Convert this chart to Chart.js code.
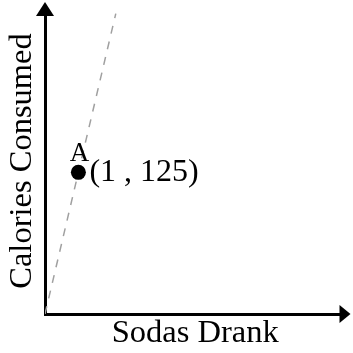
<!DOCTYPE html>
<html>
<head>
<meta charset="utf-8">
<script src="https://cdn.jsdelivr.net/npm/chart.js@4/dist/chart.umd.min.js"></script>
<style>
  html, body { margin: 0; padding: 0; background: #fff; }
  canvas { display: block; }
</style>
</head>
<body>
<canvas id="chart" width="353" height="353"></canvas>
<script>
// axis titles
const xTitle = 'Sodas Drank';
const yTitle = 'Calories Consumed';

// axis ranges (no ticks shown)
const xRange = [0, 9];
const yRange = [0, 270];

// dashed reference line through the origin
const lineX = [0, 2.12];
const lineY = [0, 265];

// the labelled point
const pointName = 'A';
const pointX = [1];
const pointY = [125];

const serif = 'Liberation Serif';

// arrow heads on the axes + the point labels
const extras = {
    id: 'extras',
    afterDraw(chart) {
        const ctx = chart.ctx;
        const a = chart.chartArea;
        ctx.save();
        ctx.fillStyle = '#000';

        // y axis arrow
        ctx.beginPath();
        ctx.moveTo(a.left, a.top - 6);
        ctx.lineTo(a.left - 9, a.top + 8);
        ctx.lineTo(a.left + 9, a.top + 8);
        ctx.closePath();
        ctx.fill();

        // x axis arrow
        ctx.beginPath();
        ctx.moveTo(a.right + 5, a.bottom);
        ctx.lineTo(a.right - 6, a.bottom - 9);
        ctx.lineTo(a.right - 6, a.bottom + 9);
        ctx.closePath();
        ctx.fill();

        // labels next to the point
        const pt = chart.getDatasetMeta(1).data[0];
        ctx.textAlign = 'center';
        ctx.textBaseline = 'alphabetic';
        ctx.font = '27px "' + serif + '"';
        ctx.fillText(pointName, pt.x + 1, pt.y - 11);

        ctx.textAlign = 'left';
        ctx.textBaseline = 'middle';
        ctx.font = '32px "' + serif + '"';
        ctx.fillText('(' + pointX[0] + ' , ' + pointY[0] + ')', pt.x + 11, pt.y);
        ctx.restore();
    }
};

const ctx = document.getElementById('chart').getContext('2d');

new Chart(ctx, {
    type: 'scatter',
    data: {
        datasets: [{
            data: lineX.map((x, i) => ({ x: x, y: lineY[i] })),
            showLine: true,
            borderColor: '#a0a0a0',
            borderWidth: 1.5,
            borderDash: [8, 8],
            pointRadius: 0,
            fill: false,
            order: 2
        }, {
            data: pointX.map((x, i) => ({ x: x, y: pointY[i] })),
            pointRadius: 7.5,
            pointBackgroundColor: '#000',
            pointBorderColor: '#000',
            pointBorderWidth: 0,
            order: 1
        }]
    },
    options: {
        responsive: false,
        animation: false,
        layout: {
            padding: { top: 8, right: 5, left: 0, bottom: 0 }
        },
        scales: {
            x: {
                type: 'linear',
                min: xRange[0],
                max: xRange[1],
                grid: { display: false, drawTicks: false },
                ticks: { display: false },
                border: { display: true, color: '#000', width: 3 },
                title: {
                    display: true,
                    text: xTitle,
                    color: '#000',
                    padding: { top: 0, bottom: 0 },
                    font: { family: serif, size: 32.5, lineHeight: 1.2 }
                }
            },
            y: {
                type: 'linear',
                min: yRange[0],
                max: yRange[1],
                grid: { display: false, drawTicks: false },
                ticks: { display: false },
                border: { display: true, color: '#000', width: 3 },
                title: {
                    display: true,
                    text: yTitle,
                    color: '#000',
                    padding: { top: 3, bottom: 3 },
                    font: { family: serif, size: 32.5, lineHeight: 1.2 }
                }
            }
        },
        plugins: {
            legend: { display: false },
            tooltip: { enabled: false }
        }
    },
    plugins: [extras]
});
</script>
</body>
</html>
